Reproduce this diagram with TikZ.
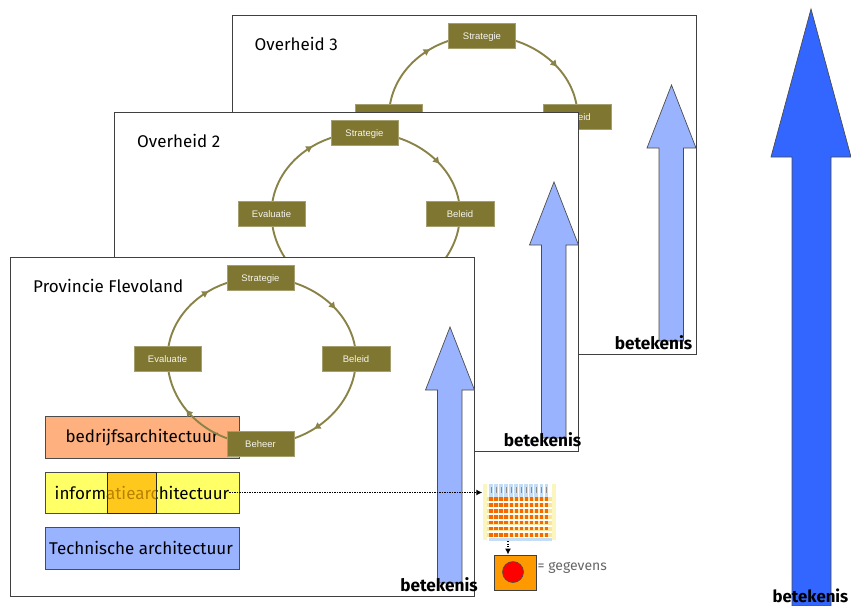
\documentclass[tikz,border=0pt]{standalone}
\usepackage{fontspec}
\setmainfont{Fira Sans}
\newfontfamily\arialfont{Liberation Sans}
\usetikzlibrary{arrows.meta,decorations.markings}
\definecolor{olivebox}{HTML}{7F7631}
\definecolor{olivering}{HTML}{8A8348}
\definecolor{arrowblue}{HTML}{99B3FF}
\definecolor{bigblue}{HTML}{3366FF}
\definecolor{bedrijf}{HTML}{FFB07F}
\definecolor{infoyel}{HTML}{FFFF66}
\definecolor{infoorg}{HTML}{FFB400}
\definecolor{datorg}{HTML}{FF9900}
\definecolor{hdrblue}{HTML}{C5DDF5}
\definecolor{rowyel}{HTML}{F8E6A0}
\definecolor{sideyel}{HTML}{FBF5C0}
\definecolor{cellorg}{HTML}{F56A00}
\pgfdeclarelayer{pcl}\pgfdeclarelayer{pcn}
\pgfdeclarelayer{pbl}\pgfdeclarelayer{pbn}
\pgfdeclarelayer{pal}\pgfdeclarelayer{pan}
\pgfsetlayers{pcl,pcn,pbl,pbn,pal,pan,main}
\tikzset{
  panelbox/.style={draw=black!75,fill=white,line width=0.9pt},
  stage/.style={fill=olivebox,draw=olivebox!70!white,line width=0.4pt,text=white!92!olivebox,minimum width=67pt,minimum height=25pt,inner sep=0pt,text height=7pt,text depth=0pt,font=\arialfont\fontsize{9.5}{10}\selectfont},
  ring/.style={draw=olivering,line width=1.9pt,postaction={decorate},decoration={markings,mark=at position 0.6 with {\arrow[olivering]{Triangle[length=6pt,width=7pt]}}}},
  titletext/.style={anchor=west,inner sep=0pt,font=\fontsize{17}{20}\selectfont},
  meaning/.style={inner sep=0pt,font=\bfseries\fontsize{17.2}{20}\selectfont},
  uparrow/.style={fill=arrowblue,draw=black!70,line width=0.7pt},
  layerbox/.style={draw=black!70,line width=0.7pt},
  layertext/.style={inner sep=0pt,font=\fontsize{17}{20}\selectfont},
  linkdots/.style={dash pattern=on 1.4pt off 1.1pt,line width=1.4pt,-{Latex[length=6pt,width=6pt]}},
}
% #1 prefix, #2 line layer, #3 node layer, #4 shift, #5 title
\newcommand{\govpanel}[5]{%
  \begin{scope}[shift={#4}]
    \begin{pgfonlayer}{#3}
      \node[stage] (#1s) at (260.5,277.5) {Strategie};
      \node[stage,minimum width=68pt] (#1b) at (356,358.5) {Beleid};
      \node[stage] (#1h) at (260.5,444) {Beheer};
      \node[stage] (#1e) at (167.5,358.5) {Evaluatie};
      \node[titletext] (#1t) at (33,286) {#5};
      \path[uparrow] (450,327) -- (474.5,390) -- (462,390) -- (462,583) -- (437.5,583) -- (437.5,390) -- (425.5,390) -- cycle;
    \end{pgfonlayer}
    \begin{pgfonlayer}{#2}
      \draw[panelbox] (10.5,257.5) rectangle (474.5,596);
      \ifx#1a
        \node[layerbox,fill=bedrijf,minimum width=194pt,minimum height=42pt,inner sep=0pt] (bed) at (142,437) {};
        \node[layertext] (bedt) at (142,437.5) {bedrijfsarchitectuur};
      \fi
      \draw[ring] (#1s.center) .. controls +(51.4,0) and +(0,-45) .. (#1b.center);
      \draw[ring] (#1b.center) .. controls +(0,47) and +(51.4,0) .. (#1h.center);
      \draw[ring] (#1h.center) .. controls +(-51.4,0) and +(0,47) .. (#1e.center);
      \draw[ring] (#1e.center) .. controls +(0,-45) and +(-51.4,0) .. (#1s.center);
    \end{pgfonlayer}
  \end{scope}}
\begin{document}
\begin{tikzpicture}[x=1pt,y=-1pt]
\useasboundingbox (0,0) rectangle (851,605);

\govpanel{c}{pcl}{pcn}{(221.5,-242)}{Overheid 3}
\govpanel{b}{pbl}{pbn}{(104,-145)}{Overheid 2}
\govpanel{a}{pal}{pan}{(0,0)}{Provincie Flevoland}

% meaning labels
\node[meaning] (mc) at (653.5,342.5) {betekenis};
\node[meaning] (mb) at (542.5,439.5) {betekenis};
\node[meaning] (ma) at (439,585) {betekenis};

% big arrow
\path[fill=bigblue,draw=black!70,line width=0.7pt] (811,9) -- (851,157) -- (831,157) -- (831,606) -- (792,606) -- (792,157) -- (771,157) -- cycle;
\node[meaning,font=\bfseries\fontsize{16.8}{20}\selectfont] (mbig) at (810.5,596) {betekenis};

% architecture layers
\node[layerbox,fill=infoyel,minimum width=194pt,minimum height=41pt,inner sep=0pt] (inf) at (142,492.5) {};
\node[layertext] (inft) at (142,492.5) {informatiearchitectuur};
\fill[infoorg,fill opacity=0.72] (107.5,472) rectangle (156,513);
\draw[black!85,line width=0.6pt] (107.5,472) rectangle (156,513);
\node[layerbox,fill=arrowblue,minimum width=194pt,minimum height=42pt,inner sep=0pt] (tech) at (142,548) {};
\node[layertext] (techt) at (141,548) {Technische architectuur};

% matrix thumbnail
\fill[sideyel] (483,484) rectangle (487,540);
\fill[sideyel] (552,484) rectangle (556,540);
\foreach \r in {499,505,511,517,522.5,528.5,535}{
  \fill[rowyel] (487,\r-2) rectangle (552,\r+2);
}
\foreach \c in {0,...,11}{
  \fill[hdrblue] (489+\c*5.05,484) rectangle (492.8+\c*5.05,497);
  \fill[black!45] (490.6+\c*5.05,487) rectangle (491.2+\c*5.05,493);
  \foreach \r in {499,505,511,517,522.5,528.5,535}{
    \fill[cellorg] (489.3+\c*5.05,\r-1.7) rectangle (492.5+\c*5.05,\r+1.7);
  }
}
\fill[hdrblue] (489,537.5) rectangle (552,541);
\node[minimum width=74pt,minimum height=59pt,inner sep=0pt] (mat) at (519.5,511.5) {};

% data symbol
\node[draw=black!75,fill=datorg,line width=0.8pt,minimum width=42pt,minimum height=35pt,inner sep=0pt] (dat) at (515.5,572.5) {};
\node[circle,draw=black!70,fill=red,line width=0.6pt,minimum size=21pt,inner sep=0pt] (dot) at (513,572) {};
\node[anchor=west,inner sep=0pt,text=black!60,font=\fontsize{14}{16}\selectfont] (geg) at (537.5,568) {= gegevens};

% links
\draw[linkdots] (inft.east) -- (inft.east -| mat.west);
\coordinate (mfoot) at (508,541);
\draw[linkdots] (mfoot) -- (mfoot |- dat.north);
\end{tikzpicture}
\end{document}
